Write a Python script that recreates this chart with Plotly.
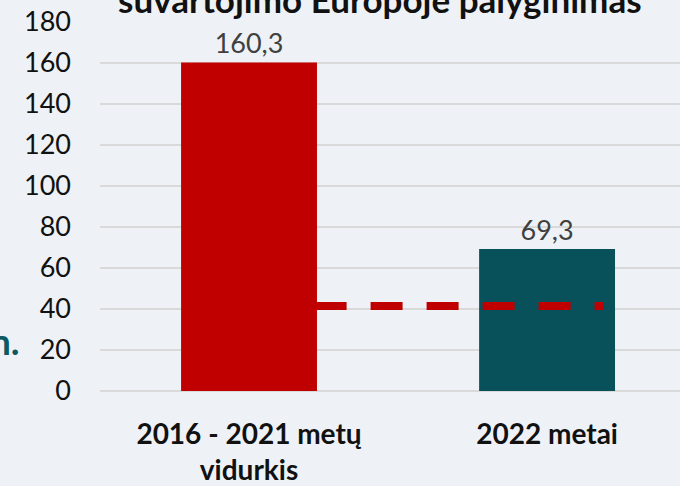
import plotly.graph_objects as go

# data
categories = ["2016 - 2021 metų<br>vidurkis", "2022 metai"]
values = [160.3, 69.3]
value_labels = ["160,3", "69,3"]
bar_colors = ["#C00000", "#08505A"]
target_x = [0.22, 1.19]
target_y = [41.5, 41.5]
y_ticks = [0, 20, 40, 60, 80, 100, 120, 140, 160, 180]

bg = "#eef2f6"
grid = "#d9d9d9"

fig = go.Figure()

fig.add_trace(go.Bar(
    x=[0, 1],
    y=values,
    width=0.456,
    marker_color=bar_colors,
    marker_line_width=0,
    text=value_labels,
    textposition="outside",
    textfont=dict(family="Lato", size=27, color="#404040"),
    cliponaxis=False,
    hoverinfo="skip",
))

fig.add_trace(go.Scatter(
    x=target_x,
    y=target_y,
    mode="lines",
    line=dict(color="#C00000", width=8, dash="32px,24px"),
    hoverinfo="skip",
))

fig.update_layout(
    width=680,
    height=486,
    margin=dict(l=100, r=0, t=22, b=90),
    paper_bgcolor=bg,
    plot_bgcolor=bg,
    showlegend=False,
    font=dict(family="Lato", color="#000000"),
    xaxis=dict(
        range=[-0.5, 1.446],
        tickvals=[0, 1],
        ticktext=categories,
        tickfont=dict(family="Lato", size=28, color="#111111", weight="bold"),
        showgrid=False,
        zeroline=False,
        showline=False,
        ticks="",
        ticklabelstandoff=24,
    ),
    yaxis=dict(
        range=[0, 180],
        tickvals=y_ticks,
        tickfont=dict(family="Lato", size=27, color="#111111"),
        showgrid=True,
        gridcolor=grid,
        gridwidth=1.5,
        zeroline=True,
        zerolinecolor=grid,
        zerolinewidth=1.5,
        showline=False,
        ticks="",
        ticklabelstandoff=28,
    ),
    annotations=[
        dict(
            text="<b>suvartojimo Europoje palyginimas</b>",
            xref="paper", yref="paper",
            x=0.483, y=1.0,
            xanchor="center", yanchor="bottom",
            showarrow=False,
            font=dict(family="Lato", size=35, color="#111111"),
        ),
        dict(
            text="<b>n.</b>",
            xref="paper", yref="paper",
            x=-0.134, y=0.07,
            xanchor="right", yanchor="bottom",
            showarrow=False,
            font=dict(family="Lato", size=37, color="#0B5A63"),
        ),
    ],
)

fig.write_html(
    "out.html",
    config={"displayModeBar": False},
    post_script="document.body.style.margin='0';",
)
